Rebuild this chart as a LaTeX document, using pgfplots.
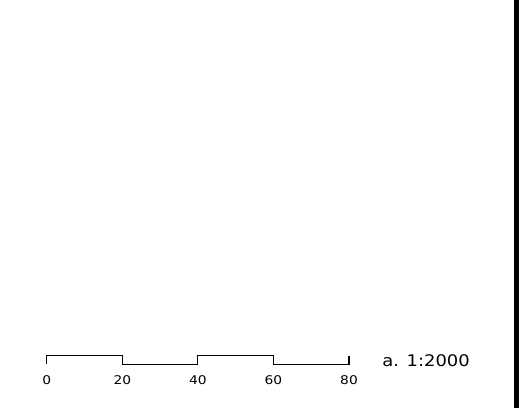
\documentclass[border=0pt]{standalone}
\usepackage{pgfplots}
\pgfplotsset{compat=1.18}
\usepackage{fontspec}
\setmainfont{DejaVu Sans}
\begin{document}
\begin{tikzpicture}
\begin{axis}[
  scale only axis, width=519pt, height=411pt,
  xmin=-12.36, xmax=124.98, ymin=0, ymax=411,
  axis lines=none, ticks=none, clip=false,
]
\path[draw=none] (rel axis cs:0,0) rectangle (rel axis cs:1,1);
% scale bar (alternating segments)
\addplot[black, line width=1.1pt, line join=miter] coordinates {
  (0,46.7) (0,55.3) (20,55.3) (20,46.7) (40,46.7) (40,55.3) (60,55.3) (60,46.7) (80,46.7) (80,54.5)
};
% right edge bar
\addplot[fill=black, draw=none] coordinates {(123.66,3) (124.98,3) (124.98,411) (123.66,411)} -- cycle;
\node[anchor=base, font=\fontsize{12}{14}\selectfont, xscale=1.15] at (axis cs:0,26.3) {0};
\node[anchor=base, font=\fontsize{12}{14}\selectfont, xscale=1.15] at (axis cs:20,26.3) {20};
\node[anchor=base, font=\fontsize{12}{14}\selectfont, xscale=1.15] at (axis cs:40,26.3) {40};
\node[anchor=base, font=\fontsize{12}{14}\selectfont, xscale=1.15] at (axis cs:60,26.3) {60};
\node[anchor=base, font=\fontsize{12}{14}\selectfont, xscale=1.15] at (axis cs:80,26.3) {80};
\node[anchor=base, font=\fontsize{16}{19}\selectfont, xscale=1.12] at (axis cs:100.4,44) {a. 1:2000};
\end{axis}
\end{tikzpicture}
\end{document}
